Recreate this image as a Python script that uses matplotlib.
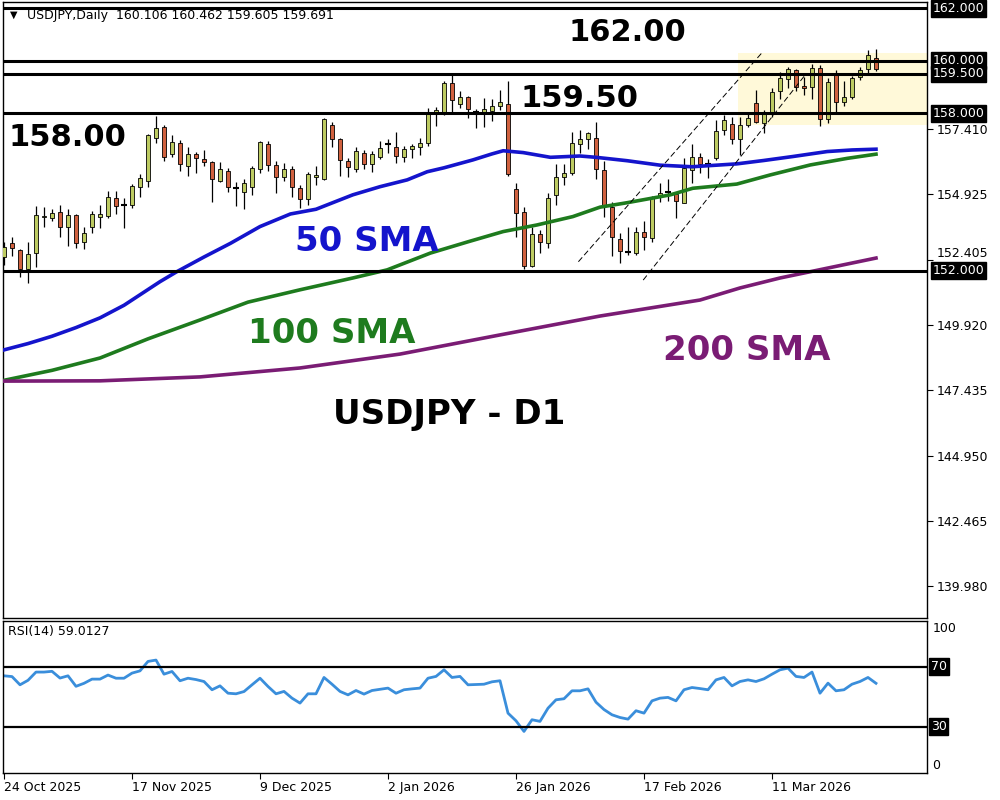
import matplotlib
matplotlib.use("Agg")
import numpy as np
from matplotlib import pyplot as plt
from matplotlib.patches import Rectangle
import matplotlib.transforms as mtransforms

"""Data
"""
opens = [152.53, 153.04, 152.79, 152.05, 152.66, 154.05, 154.02, 154.22, 153.65, 154.11,
         153.08, 153.68, 154.06, 154.09, 154.76, 154.49, 154.50, 155.20, 155.43, 157.05,
         157.46, 156.44, 156.86, 155.99, 156.44, 156.27, 156.13, 155.43, 155.80, 155.16,
         155.01, 155.20, 155.86, 156.83, 156.03, 155.56, 155.88, 155.14, 154.73, 155.56,
         155.48, 157.55, 157.01, 156.18, 155.88, 156.47, 156.05, 156.32, 156.82, 156.73,
         156.32, 156.63, 156.73, 156.86, 158.03, 158.03, 159.14, 158.35, 158.61, 158.03,
         158.06, 158.10, 158.28, 158.35, 155.11, 154.25, 152.18, 153.40, 153.07, 154.89,
         155.58, 155.74, 156.83, 157.01, 157.05, 155.84, 154.44, 153.19, 152.72, 152.66,
         153.49, 153.23, 154.80, 155.01, 154.92, 154.59, 155.84, 156.35, 156.07, 156.28,
         157.36, 157.59, 157.01, 157.55, 158.38, 157.64, 158.06, 158.83, 159.30, 159.63,
         159.04, 158.99, 159.71, 157.77, 159.46, 158.41, 158.61, 159.40, 159.68, 160.106]
highs = [153.11, 153.27, 152.81, 153.08, 154.47, 154.44, 154.34, 154.50, 154.35, 154.15,
         153.68, 154.29, 154.50, 155.05, 155.05, 154.76, 155.30, 155.69, 157.21, 157.90,
         157.55, 157.17, 156.98, 156.73, 156.54, 156.60, 156.19, 156.16, 155.90, 155.39,
         155.50, 155.97, 156.96, 156.96, 156.19, 156.12, 155.97, 155.27, 155.75, 155.97,
         157.80, 157.68, 157.05, 156.28, 156.73, 156.58, 156.56, 156.96, 157.01, 157.29,
         156.75, 156.83, 157.05, 158.19, 158.23, 159.21, 159.46, 158.86, 158.64, 158.15,
         158.57, 158.53, 158.89, 159.21, 155.33, 154.44, 153.68, 153.55, 154.95, 156.07,
         156.07, 157.30, 157.36, 157.30, 157.68, 156.19, 154.63, 153.42, 153.65, 153.68,
         153.91, 154.85, 155.33, 155.50, 155.01, 156.28, 156.83, 156.47, 156.25, 157.75,
         157.94, 157.85, 157.85, 158.00, 158.89, 158.13, 158.95, 159.59, 159.75, 159.68,
         159.40, 159.88, 159.84, 159.33, 159.63, 159.21, 159.42, 159.78, 160.41, 160.462]
lows = [152.22, 152.57, 151.77, 151.54, 152.15, 153.65, 153.91, 153.30, 152.95, 152.85,
        152.81, 153.42, 153.64, 154.00, 154.15, 153.61, 154.38, 154.82, 155.20, 156.86,
        156.19, 156.35, 155.78, 155.62, 155.71, 155.99, 154.63, 155.36, 155.01, 154.47,
        154.34, 154.89, 155.74, 155.78, 154.95, 155.43, 154.82, 154.38, 154.50, 155.27,
        155.45, 156.70, 155.62, 155.56, 155.75, 155.88, 155.75, 156.25, 156.50, 156.09,
        156.16, 156.28, 156.41, 156.75, 157.52, 157.94, 158.06, 158.19, 157.81, 157.43,
        157.47, 157.72, 158.13, 155.59, 153.30, 152.05, 152.15, 152.69, 152.88, 154.50,
        155.27, 155.65, 156.50, 156.63, 155.48, 154.06, 152.54, 152.31, 152.60, 152.60,
        152.79, 153.11, 154.63, 154.65, 153.99, 154.57, 155.33, 155.71, 155.52, 156.22,
        157.17, 156.83, 156.41, 157.47, 157.62, 157.26, 157.85, 158.53, 158.95, 158.83,
        158.70, 158.53, 157.52, 157.64, 158.06, 158.28, 158.53, 159.27, 159.46, 159.605]
closes = [152.92, 152.85, 152.05, 152.62, 154.11, 154.09, 154.19, 153.65, 154.11, 153.07,
          153.42, 154.15, 154.15, 154.80, 154.48, 154.50, 155.23, 155.52, 157.17, 157.43,
          156.32, 156.89, 156.05, 156.44, 156.28, 156.13, 155.48, 155.86, 155.20, 155.15,
          155.33, 155.90, 156.92, 156.03, 155.56, 155.88, 155.20, 154.73, 155.67, 155.64,
          157.77, 157.01, 156.22, 155.94, 156.56, 156.05, 156.44, 156.66, 156.85, 156.37,
          156.63, 156.74, 156.86, 157.97, 158.13, 159.14, 158.51, 158.61, 158.15, 158.01,
          158.15, 158.28, 158.42, 155.69, 154.19, 152.18, 153.40, 153.11, 154.78, 155.58,
          155.74, 156.88, 157.01, 157.24, 155.86, 154.50, 153.27, 152.76, 152.70, 153.49,
          153.27, 154.80, 154.95, 155.00, 154.67, 155.90, 156.35, 156.07, 156.09, 157.34,
          157.75, 157.02, 157.55, 157.81, 157.68, 158.06, 158.80, 159.36, 159.68, 158.99,
          158.95, 159.71, 157.77, 159.18, 158.41, 158.61, 159.36, 159.63, 160.22, 159.691]

sma50_idx = [0, 3, 6, 9, 12, 15, 17.6, 19.5, 21.6, 25, 28.3, 32, 35.8, 39, 43.6, 47, 50.4,
             52.9, 55, 58.6, 61, 62.4, 64.9, 68.3, 72, 74, 77.9, 82, 86, 91.6, 95, 98.6,
             102.9, 106, 109]
sma50_val = [148.98, 149.22, 149.50, 149.83, 150.20, 150.68, 151.20, 151.58, 151.96, 152.52,
             153.04, 153.68, 154.16, 154.34, 154.89, 155.20, 155.46, 155.77, 155.92, 156.22,
             156.45, 156.57, 156.50, 156.32, 156.37, 156.32, 156.19, 156.02, 155.96, 156.07,
             156.20, 156.35, 156.54, 156.60, 156.63]

sma100_idx = [0, 6, 12, 18, 24.5, 30.5, 37, 43.6, 47.9, 53.3, 58, 62.4, 66.6, 71.1, 74.5,
              77.9, 83.3, 86.1, 91.6, 95.8, 100.8, 105.4, 109]
sma100_val = [147.82, 148.20, 148.67, 149.40, 150.12, 150.80, 151.27, 151.72, 152.03, 152.67,
              153.10, 153.49, 153.74, 154.06, 154.42, 154.59, 154.89, 155.14, 155.30, 155.65,
              156.03, 156.28, 156.44]

sma200_idx = [0, 12, 24.5, 37, 49.5, 62, 74.5, 87, 92, 97, 103, 109]
sma200_val = [147.79, 147.80, 147.95, 148.29, 148.82, 149.55, 150.27, 150.88, 151.34, 151.72,
              152.10, 152.48]

rsi = [64.0, 63.5, 58.0, 61.0, 66.5, 66.5, 67.0, 62.5, 64.0, 57.0,
       59.0, 61.8, 61.8, 64.5, 62.4, 62.4, 65.8, 67.3, 73.6, 74.5,
       65.1, 66.9, 60.7, 62.4, 61.5, 60.2, 54.7, 57.3, 52.4, 52.0,
       53.5, 58.0, 62.4, 56.9, 52.0, 53.6, 49.1, 45.8, 52.0, 52.0,
       62.9, 58.4, 53.6, 51.3, 54.2, 51.8, 54.2, 55.0, 55.8, 52.4,
       54.7, 55.3, 55.8, 62.4, 63.6, 68.0, 62.9, 63.6, 58.0, 58.2,
       58.4, 60.0, 60.7, 39.1, 34.0, 26.9, 34.7, 33.6, 42.4, 48.0,
       48.7, 54.0, 54.0, 55.3, 46.4, 41.5, 38.0, 36.2, 35.1, 40.7,
       39.1, 47.3, 49.1, 49.6, 47.3, 54.7, 56.2, 55.5, 54.7, 61.3,
       62.9, 57.3, 60.2, 61.3, 60.2, 62.0, 65.1, 68.0, 69.1, 63.6,
       62.9, 66.5, 52.4, 59.1, 54.0, 54.7, 58.4, 60.2, 62.9, 59.0127]

levels = [162.0, 160.0, 159.5, 158.0, 152.0]
price_ticks = [157.410, 154.925, 152.405, 149.920, 147.435, 144.950, 142.465, 139.980]
date_pos = [0, 16, 32, 48, 64, 80, 96]
date_labels = ['24 Oct 2025', '17 Nov 2025', '9 Dec 2025', '2 Jan 2026',
               '26 Jan 2026', '17 Feb 2026', '11 Mar 2026']

# channel (dashed) and the shaded zone
chan_upper = ([71.8, 94.7], [152.34, 160.29])
chan_lower = ([79.9, 100.3], [151.64, 159.52])
zone = (91.75, 157.55, 160.31)

BULL = '#BDCB62'
BEAR = '#D0613F'

"""Plot
"""
fig = plt.figure(figsize=(10, 8), dpi=100)
ax = fig.add_axes([0.003, 0.2275, 0.924, 0.77])
rax = fig.add_axes([0.003, 0.034, 0.924, 0.19], sharex=ax)

o = np.array(opens); h = np.array(highs); l = np.array(lows); c = np.array(closes)
x = np.arange(len(o))

ax.add_patch(Rectangle((zone[0], zone[1]), 30, zone[2] - zone[1],
                       facecolor='#FFF9D9', edgecolor='none', zorder=0))

ax.vlines(x, l, h, color='black', linewidth=0.9, zorder=2)
doji = np.abs(c - o) < 0.035
up = (c >= o) & ~doji
dn = (c < o) & ~doji
ax.bar(x[up], (c - o)[up], bottom=o[up], width=0.62, color=BULL,
       edgecolor='black', linewidth=0.6, zorder=3)
ax.bar(x[dn], (o - c)[dn], bottom=c[dn], width=0.62, color=BEAR,
       edgecolor='black', linewidth=0.6, zorder=3)
ax.hlines(o[doji], x[doji] - 0.33, x[doji] + 0.33, color='black', linewidth=1.5, zorder=3)

ax.plot(sma50_idx, sma50_val, color='#1414CC', linewidth=2.6, zorder=4)
ax.plot(sma100_idx, sma100_val, color='#1E7B1E', linewidth=2.6, zorder=4)
ax.plot(sma200_idx, sma200_val, color='#7A1C74', linewidth=2.6, zorder=4)

for lv in levels:
    ax.axhline(lv, color='black', linewidth=2.2, zorder=5)

for xs, ys in (chan_upper, chan_lower):
    ax.plot(xs, ys, color='black', linewidth=0.7, linestyle=(0, (6, 3)), zorder=5)

num = dict(fontsize=22, fontweight='bold', ha='center', va='center', zorder=6)
lab = dict(fontsize=24.5, fontweight='bold', ha='center', va='center', zorder=6)
ax.text(77.9, 161.06, '162.00', color='black', **num)
ax.text(72.0, 158.58, '159.50', color='black', **num)
ax.text(7.9, 157.06, '158.00', color='black', **num)
ax.text(45.4, 153.13, '50 SMA', color='#1414CC', **lab)
ax.text(41.0, 149.59, '100 SMA', color='#1E7B1E', **lab)
ax.text(92.8, 148.94, '200 SMA', color='#7A1C74', **lab)
ax.text(55.7, 146.5, 'USDJPY - D1', color='black', **lab)

ax.text(0.008, 0.979, '\u25bc', transform=ax.transAxes, fontsize=7, va='center')
ax.text(0.026, 0.978, 'USDJPY,Daily  160.106 160.462 159.605 159.691',
        transform=ax.transAxes, fontsize=9, va='center')

ax.set_xlim(-0.125, 115.375)
ax.set_ylim(138.76, 162.24)
ax.yaxis.tick_right()
ax.set_yticks(price_ticks)
ax.set_yticklabels(['%.3f' % t for t in price_ticks])
ax.tick_params(axis='y', direction='out', length=4, labelsize=9, pad=3)
ax.tick_params(axis='x', bottom=False, labelbottom=False)
# the 152.405 label sits just above the 152.000 box, as in MT4
for t in ax.get_yticklabels():
    if t.get_text() == '152.405':
        t.set_va('bottom')

# highlighted level labels on the right
trans = mtransforms.blended_transform_factory(ax.transAxes, ax.transData)
for lv in levels:
    ax.text(1.006, lv, '%.3f' % lv, transform=trans, fontsize=9, color='white',
            va='center', ha='left', zorder=7, clip_on=False,
            bbox=dict(boxstyle='square,pad=0.15', facecolor='black', edgecolor='black'))

# RSI panel
rax.plot(x, rsi, color='#3A8EDB', linewidth=2)
rax.axhline(70, color='black', linewidth=1.6)
rax.axhline(30, color='black', linewidth=1.6)
rax.set_ylim(-0.7, 100.7)
rax.yaxis.tick_right()
rax.set_yticks([100, 0])
rax.tick_params(axis='y', length=0, labelsize=9, pad=4)
ylabs = rax.get_yticklabels()
ylabs[0].set_va('top')
ylabs[1].set_va('bottom')
rtrans = mtransforms.blended_transform_factory(rax.transAxes, rax.transData)
for lv in (70, 30):
    rax.text(1.004, lv, str(lv), transform=rtrans, fontsize=9, color='white',
             va='center', ha='left', clip_on=False,
             bbox=dict(boxstyle='square,pad=0.15', facecolor='black', edgecolor='black'))
rax.text(0.005, 0.93, 'RSI(14) 59.0127', transform=rax.transAxes, fontsize=9, va='center')

rax.set_xticks(date_pos)
rax.set_xticklabels(date_labels, ha='left')
rax.tick_params(axis='x', direction='out', length=4, labelsize=9, pad=2)

for a in (ax, rax):
    for s in a.spines.values():
        s.set_color('black')
        s.set_linewidth(1)

fig.savefig('out.png', dpi=100, facecolor='white')
